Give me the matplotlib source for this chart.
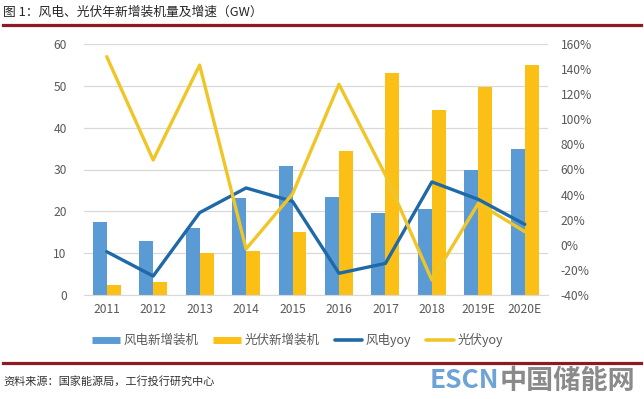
import matplotlib
matplotlib.use("Agg")
import matplotlib.pyplot as plt
from matplotlib.lines import Line2D
from matplotlib.ticker import FuncFormatter
import numpy as np

plt.rcParams['font.family'] = ['Noto Sans CJK SC', 'DejaVu Sans']

# 数据
anos = ['2011', '2012', '2013', '2014', '2015', '2016', '2017', '2018', '2019E', '2020E']
eolica = [17.5, 12.9, 15.9, 23.2, 30.8, 23.4, 19.7, 20.5, 29.9, 34.9]
solar = [2.5, 3.0, 10.0, 10.6, 15.1, 34.4, 53.1, 44.2, 49.8, 55.0]
eolica_yoy = [-5.5, -24.9, 25.6, 45.3, 34.6, -22.7, -14.8, 50.1, 36.2, 16.3]
solar_yoy = [149.9, 67.6, 143.2, -3.3, 40.5, 127.9, 55.6, -28.1, 33.0, 10.5]

c_azul = '#5b9bd5'
c_amarelo = '#fbbf16'
c_azul_esc = '#1f69a6'
c_amarelo_l = '#f0c528'
c_texto = '#595959'

fig = plt.figure(figsize=(6.44, 3.99), dpi=100)
ax = fig.add_axes([83.5 / 644, 1 - 295 / 399, (548 - 83.5) / 644, (295 - 44) / 399])
ax2 = ax.twinx()

x = np.arange(len(anos))
w = 0.30
ax.bar(x - w / 2, eolica, w, color=c_azul, zorder=2)
ax.bar(x + w / 2, solar, w, color=c_amarelo, zorder=2)

ax2.plot(x, eolica_yoy, color=c_azul_esc, lw=2.4, solid_capstyle='round', zorder=3)
ax2.plot(x, solar_yoy, color=c_amarelo_l, lw=2.4, solid_capstyle='round', zorder=3)

ax.set_xlim(-0.5, len(anos) - 0.5)
ax.set_ylim(0, 60)
ax.set_yticks(range(0, 61, 10))
ax2.set_ylim(-40, 160)
ax2.set_yticks(range(-40, 161, 20))
ax2.yaxis.set_major_formatter(FuncFormatter(lambda v, p: f'{int(v)}%'))

ax.set_xticks(x)
ax.set_xticklabels(anos)
ax.grid(axis='y', color='#d9d9d9', lw=0.9, zorder=0)
ax.set_axisbelow(True)
for a in (ax, ax2):
    for s in a.spines.values():
        s.set_visible(False)
    a.tick_params(length=0, colors=c_texto, labelsize=8.7)
ax.spines['bottom'].set_visible(True)
ax.spines['bottom'].set_color('#d9d9d9')
ax.tick_params(axis='y', pad=12)
ax.tick_params(axis='x', pad=6)
ax2.tick_params(axis='y', pad=9)

handles = [
    Line2D([], [], color=c_azul, lw=5, solid_capstyle='butt'),
    Line2D([], [], color=c_amarelo, lw=5, solid_capstyle='butt'),
    Line2D([], [], color=c_azul_esc, lw=2.6, solid_capstyle='round'),
    Line2D([], [], color=c_amarelo_l, lw=2.6, solid_capstyle='round'),
]
labels = ['风电新增装机', '光伏新增装机', '风电yoy', '光伏yoy']
fig.legend(handles, labels, loc='center', bbox_to_anchor=(0.462, 1 - 340 / 399), ncol=4,
           frameon=False, fontsize=9, handlelength=2.2, handletextpad=0.3,
           columnspacing=1.2, labelcolor=c_texto)

# 标题与分隔线
fig.text(0.005, 1 - 12.5 / 399, '图 1：风电、光伏年新增装机量及增速（GW）', fontsize=9.2,
         color='#262626', va='center', ha='left')
fig.add_artist(Line2D([0.004, 0.995], [1 - 25 / 399] * 2, transform=fig.transFigure,
                      color='#8e1b22', lw=2.3))
fig.add_artist(Line2D([0.004, 0.995], [1 - 363 / 399] * 2, transform=fig.transFigure,
                      color='#8e1b22', lw=2.3))
fig.text(0.005, 1 - 381 / 399, '资料来源：国家能源局，工行投行研究中心', fontsize=8,
         color='#333333', va='center', ha='left')

# 水印
fig.text(430 / 644, 1 - 381 / 399, 'ESCN', fontsize=19, fontweight='bold',
         color='#6fa3d6', va='center', ha='left')
fig.text(500 / 644, 1 - 381 / 399, '中国储能网', fontsize=19.5, fontweight='bold',
         color='#8a8a8a', va='center', ha='left')

fig.savefig('out.png', dpi=100, facecolor='white')
